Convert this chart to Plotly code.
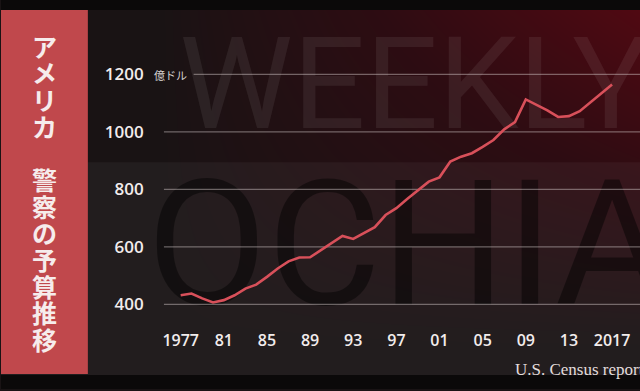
import numpy as np
import plotly.graph_objects as go

W, H = 640, 391

# ---- data ----
years = list(range(1977, 2018))
budget = [432, 438, 421, 407, 415, 432, 455, 469, 496, 525,
          550, 563, 564, 588, 611, 638, 628, 649, 669, 711,
          735, 767, 798, 827, 842, 897, 914, 926, 948, 972,
          1009, 1034, 1113, 1095, 1075, 1052, 1055, 1072, 1103, 1133,
          1165]
x_tick_vals = [1977, 1981, 1985, 1989, 1993, 1997, 2001, 2005, 2009, 2013, 2017]
x_tick_text = ["1977", "81", "85", "89", "93", "97", "01", "05", "09", "13", "2017"]
y_tick_vals = [400, 600, 800, 1000, 1200]
y_tick_text = ["400", "600", "800", "1000", "1200"]
unit_label = "億ドル"
title_text = "アメリカ　警察の予算推移"
source_text = "U.S. Census report"
watermark_top = "WEEKLY"
watermark_bottom = "OCHIAI"

# ---- layout geometry (pixels) ----
plot_left, plot_top, plot_bottom = 163, 60, 315
x_range = [1975.43, 2019.59]
y_range = [368.9, 1251.2]

fig = go.Figure()

# background gradient (decorative), on full-figure pixel axes
gx = np.linspace(0, W, 33)
gy = np.linspace(0, H, 21)
rx = np.clip((gx / W - 0.25) / 0.75, 0, 1)
ry = np.clip(1 - gy / H * 1.15, 0, 1)
z = np.outer(ry, rx) ** 0.85
fig.add_trace(go.Heatmap(x=gx, y=gy, z=z, zsmooth="best", showscale=False,
                         colorscale=[[0, "#191314"], [0.5, "#2d0c12"], [1, "#520912"]],
                         hoverinfo="skip", xaxis="x", yaxis="y"))
# lighter band behind lower watermark
fig.add_trace(go.Scatter(x=[0, W, W, 0, 0], y=[163, 163, 377, 377, 163], mode="lines",
                         fill="toself", fillcolor="rgba(255,255,255,0.045)",
                         line=dict(width=0), hoverinfo="skip", showlegend=False,
                         xaxis="x", yaxis="y"))
fig.add_trace(go.Scatter(x=[414], y=[96], mode="text", text=[watermark_top],
                         textposition="middle center", cliponaxis=False,
                         textfont=dict(family="Roboto", size=128,
                                       color="rgba(255,255,255,0.07)"),
                         hoverinfo="skip", showlegend=False, xaxis="x", yaxis="y"))
fig.add_trace(go.Scatter(x=[146], y=[262], mode="text", text=[watermark_bottom],
                         textposition="middle right", cliponaxis=False,
                         textfont=dict(family="Roboto", size=175,
                                       color="rgba(0,0,0,0.45)"),
                         hoverinfo="skip", showlegend=False, xaxis="x", yaxis="y"))

# data line
fig.add_trace(go.Scatter(x=years, y=budget, mode="lines",
                         line=dict(color="#d8505a", width=2.6),
                         showlegend=False, xaxis="x2", yaxis="y2"))

shapes = []
# gridlines
for v in y_tick_vals:
    x0 = 1978.2 if v == max(y_tick_vals) else x_range[0]
    shapes.append(dict(type="line", xref="x2", yref="y2", x0=x0, x1=x_range[1], y0=v, y1=v,
                       line=dict(color="rgba(215,205,205,0.45)", width=1.2), layer="below"))
# frame bands and left panel
shapes.append(dict(type="rect", xref="x", yref="y", x0=0, x1=W, y0=0, y1=10,
                   fillcolor="#0b0909", line=dict(width=0), layer="above"))
shapes.append(dict(type="rect", xref="x", yref="y", x0=0, x1=W, y0=377, y1=H,
                   fillcolor="#0b0909", line=dict(width=0), layer="above"))
shapes.append(dict(type="rect", xref="x", yref="y", x0=0, x1=87, y0=10, y1=376,
                   fillcolor="#c0484c", line=dict(width=0), layer="above"))

annotations = []
for i, ch in enumerate(title_text):
    if ch.strip() == "" or ch == "　":
        continue
    annotations.append(dict(x=43.5, y=46 + i * 26.8, xref="x", yref="y", text=ch,
                            showarrow=False, xanchor="center", yanchor="middle",
                            font=dict(family="Noto Sans CJK JP", size=25, color="#f6ecec",
                                      weight="bold")))
annotations.append(dict(x=151, y=75, xref="x", yref="y", text=unit_label, showarrow=False,
                        xanchor="left", yanchor="middle",
                        font=dict(family="Noto Sans CJK JP", size=11, color="#d8d2d2")))
annotations.append(dict(x=513, y=371, xref="x", yref="y", text=source_text, showarrow=False,
                        xanchor="left", yanchor="middle",
                        font=dict(family="Liberation Serif", size=17, color="#e2dcdc")))

tick_font = dict(family="Open Sans", size=16, color="#f2ecec", weight=600)

fig.update_layout(
    width=W, height=H,
    margin=dict(l=0, r=0, t=0, b=0),
    paper_bgcolor="#191314", plot_bgcolor="rgba(0,0,0,0)",
    showlegend=False,
    xaxis=dict(domain=[0, 1], range=[0, W], visible=False, fixedrange=True),
    yaxis=dict(domain=[0, 1], range=[H, 0], visible=False, fixedrange=True),
    xaxis2=dict(domain=[plot_left / W, 1], range=x_range, anchor="y2",
                tickmode="array", tickvals=x_tick_vals, ticktext=x_tick_text,
                showgrid=False, zeroline=False, showline=False, ticks="",
                tickfont=tick_font, ticklabelstandoff=16),
    yaxis2=dict(domain=[1 - plot_bottom / H, 1 - plot_top / H], range=y_range, anchor="x2",
                tickmode="array", tickvals=y_tick_vals, ticktext=y_tick_text,
                showgrid=False, zeroline=False, showline=False, ticks="",
                tickfont=dict(family="Open Sans", size=17, color="#f2ecec", weight=600),
                ticklabelstandoff=19),
    shapes=shapes,
    annotations=annotations,
)

fig.write_html("out.html", config={"displayModeBar": False},
               post_script="document.body.style.margin='0';document.body.style.overflow='hidden';")
